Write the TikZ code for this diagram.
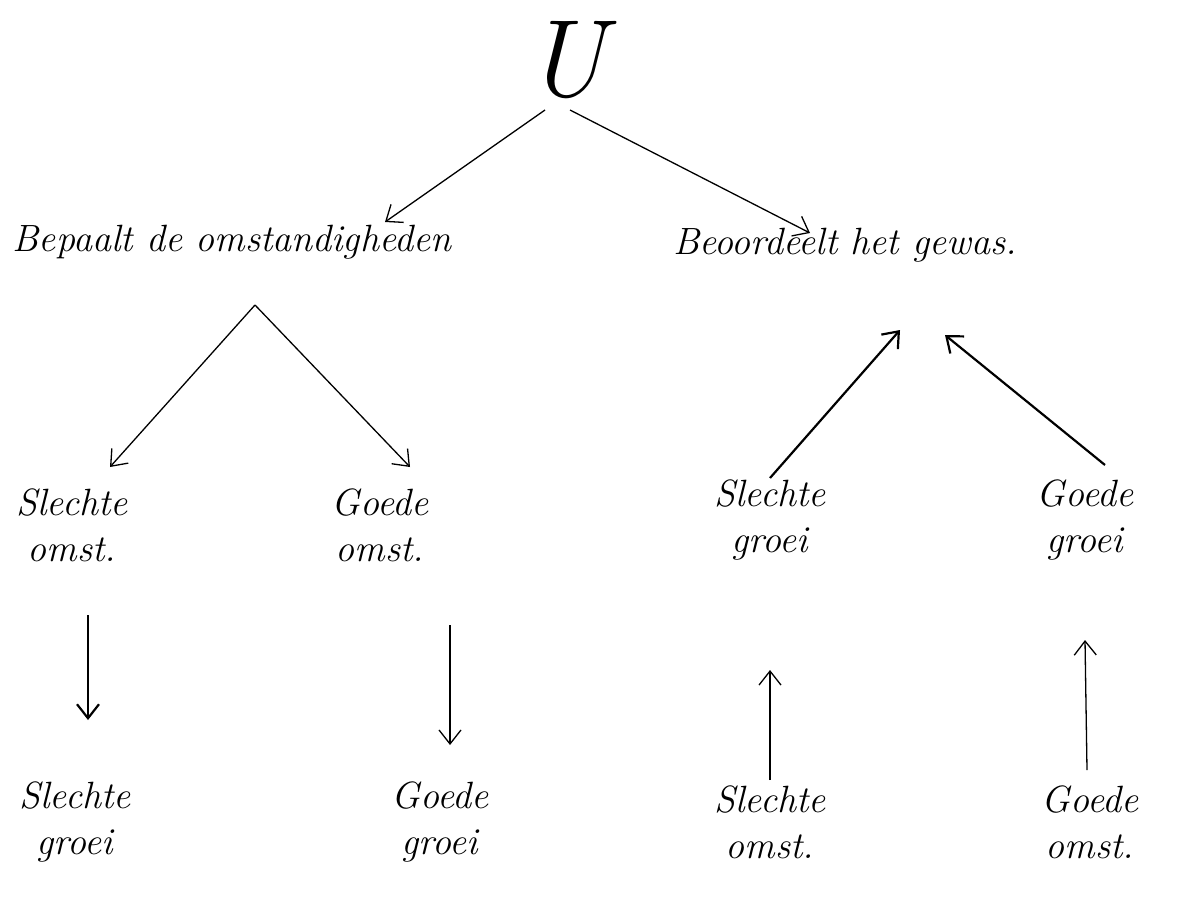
\documentclass[tikz,border=0pt]{standalone}
\usetikzlibrary{arrows.meta,calc}
\begin{document}
\begin{tikzpicture}[x=1pt,y=-1pt,
  lbl/.style={font=\fontsize{38}{46}\selectfont\itshape, align=center, inner sep=2pt},
  arr/.style={-{Straight Barb[length=14pt,width=22pt]}, line width=1.3pt},
  thick arr/.style={arr, line width=2.2pt}]
\useasboundingbox[fill=white] (0,0) rectangle (1193,911);
\node[font=\fontsize{110}{110}\selectfont\itshape] (U) at (565,60) {U};
\node[lbl] (B) at (232,242) {Bepaalt de omstandigheden};
\node[lbl] (C) at (845,245) {Beoordeelt het gewas.};
\node[lbl] (s1) at (72,525) {Slechte\\omst.};
\node[lbl] (g1) at (380,525) {Goede\\omst.};
\node[lbl] (s2) at (770,520) {Slechte\\groei};
\node[lbl] (g2) at (1085,520) {Goede\\groei};
\node[lbl] (s3) at (75,822) {Slechte\\groei};
\node[lbl] (g3) at (440,822) {Goede\\groei};
\node[lbl] (s4) at (770,822) {Slechte\\omst.};
\node[lbl] (g4) at (1090,822) {Goede\\omst.};
\draw[arr] ($(U)+(-20,50)$) -- ($(B)+(153,-20)$);
\draw[arr] ($(U)+(5,50)$) -- ($(C)+(-35,-12)$);
\draw[arr] ($(B)+(23,63)$) -- ($(s1)+(38,-58)$);
\draw[arr] ($(B)+(23,63)$) -- ($(g1)+(30,-58)$);
\draw[thick arr] ($(s2)+(0,-42)$) -- ($(C)+(55,85)$);
\draw[thick arr] ($(g2)+(20,-55)$) -- ($(C)+(100,90)$);
\draw[thick arr] ($(s1)+(16,90)$) -- ($(s3)+(13,-102)$);
\draw[arr] ($(g1)+(70,100)$) -- ($(g3)+(10,-77)$);
\draw[arr] ($(s4)+(0,-42)$) -- ($(s2)+(0,150)$);
\draw[arr] ($(g4)+(-3,-52)$) -- ($(g2)+(0,120)$);
\end{tikzpicture}
\end{document}
